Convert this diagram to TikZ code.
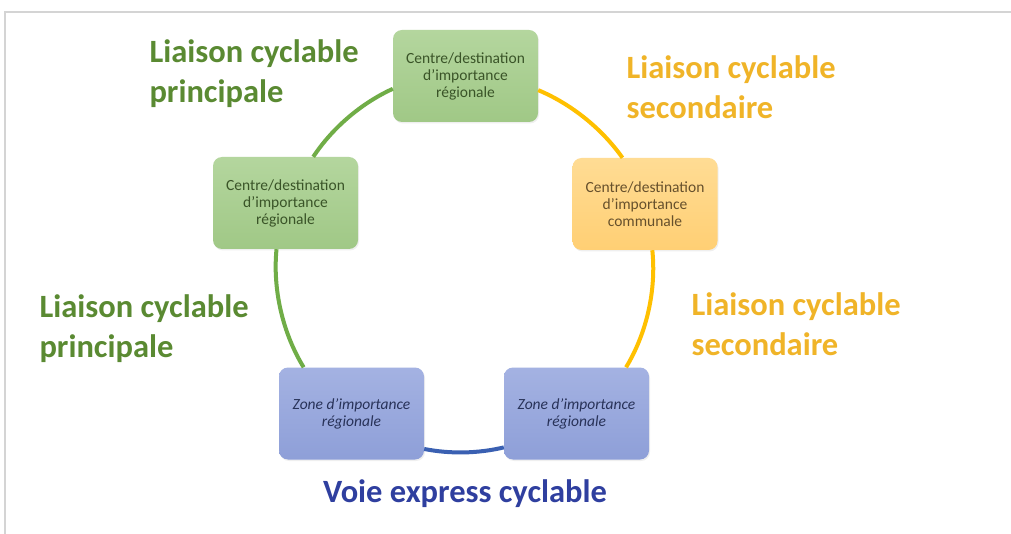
\documentclass[tikz,border=0pt]{standalone}
\usepackage{fontspec}
\setmainfont{Carlito}
\usetikzlibrary{shadows}
\definecolor{gline}{HTML}{70AD47}
\definecolor{yline}{HTML}{FFC000}
\definecolor{bline}{HTML}{3A60B2}
\definecolor{gtop}{HTML}{B4D69E}
\definecolor{gbot}{HTML}{A0C886}
\definecolor{otop}{HTML}{FFDC94}
\definecolor{obot}{HTML}{FFCF74}
\definecolor{btop}{HTML}{A4B2E2}
\definecolor{bbot}{HTML}{8E9FD8}
\definecolor{gtext}{HTML}{3A5428}
\definecolor{otext}{HTML}{66502C}
\definecolor{btext}{HTML}{283258}
\definecolor{glab}{HTML}{5A8A32}
\definecolor{ylab}{HTML}{F0B428}
\definecolor{blab}{HTML}{2F3F9F}
\definecolor{framec}{HTML}{D4D4D4}
\begin{document}
\begin{tikzpicture}[x=1pt,y=-1pt,
  box/.style={rectangle, rounded corners=9pt, minimum width=145pt, minimum height=92pt,
    align=center, inner sep=2pt, font=\fontsize{15.5}{17}\selectfont,
    drop shadow={opacity=0.12, shadow xshift=1pt, shadow yshift=-1.5pt}},
  gbox/.style={box, top color=gtop, bottom color=gbot, text=gtext},
  obox/.style={box, top color=otop, bottom color=obot, text=otext},
  bbox/.style={box, top color=btop, bottom color=bbot, text=btext, font=\itshape\fontsize{15.5}{17}\selectfont},
  lab/.style={font=\bfseries\fontsize{32.5}{40}\selectfont, align=left, anchor=west},
  link/.style={line width=4pt, looseness=0.85}
]
\useasboundingbox (0,0) rectangle (1011,534);
\fill[white] (0,0) rectangle (1011,534);
\draw[framec, line width=2pt] (5,534) -- (5,12) -- (1011,12);

\node[gbox] (top) at (465.5,76) {Centre/destination\\d’importance\\régionale};
\node[gbox] (left) at (285.5,203) {Centre/destination\\d’importance\\régionale};
\node[obox] (right) at (645,204) {Centre/destination\\d’importance\\communale};
\node[bbox] (bl) at (351.5,413.5) {Zone d’importance\\régionale};
\node[bbox] (br) at (576.5,413.5) {Zone d’importance\\régionale};

\draw[link, gline] (top.190.9) to[bend right=16] (left.59.1);
\draw[link, gline] (left.259.5) to[bend right=18.6] (bl.136.5);
\draw[link, bline] (bl.334.6) to[bend right=12.3] (br.205.4);
\draw[link, yline] (br.43.5) to[bend right=18.6] (right.279.9);
\draw[link, yline] (right.116.6) to[bend right=16] (top.349.1);

\node[lab, text=glab] (l1) at (146,74) {Liaison cyclable\\principale};
\node[lab, text=glab] (l2) at (36,329) {Liaison cyclable\\principale};
\node[lab, text=ylab] (l3) at (623,87) {Liaison cyclable\\secondaire};
\node[lab, text=ylab] (l4) at (688,324) {Liaison cyclable\\secondaire};
\node[font=\bfseries\fontsize{32.5}{40}\selectfont, text=blab] (l5) at (465,494) {Voie express cyclable};
\end{tikzpicture}
\end{document}
